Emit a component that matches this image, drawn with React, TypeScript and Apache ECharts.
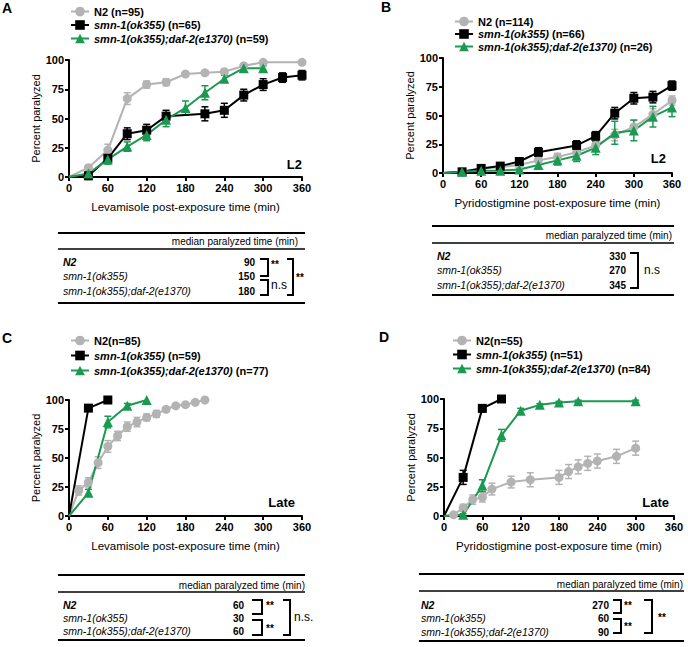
import React, { useEffect, useRef } from "react";
import * as echarts from "echarts";

const FONT = '"Liberation Sans", Arial, Helvetica, sans-serif';
const GRAY = "#b3b3b3";
const BLACK = "#000000";
const GREEN = "#1a9a50";

// ---- Panel A (L2, levamisole)
const A_N2_t = [0, 30, 60, 90, 120, 150, 180, 210, 240, 270, 300, 360];
const A_N2_v = [0, 8, 23, 67, 79, 81, 88, 89, 90, 95, 98, 98];
const A_N2_e = [0, 2, 5, 5, 3, 3, 2, 2, 2, 2, 1, 1];
const A_smn_t = [0, 30, 60, 90, 120, 150, 210, 240, 270, 300, 330, 360];
const A_smn_v = [0, 1, 16, 37, 40, 52, 54, 57, 70, 79, 85, 87];
const A_smn_e = [0, 3, 4, 5, 5, 5, 6, 6, 5, 5, 4, 4];
const A_daf_t = [0, 30, 60, 90, 120, 150, 180, 210, 240, 270, 300];
const A_daf_v = [0, 3, 15, 26, 36, 49, 59, 72, 84, 93, 93];
const A_daf_e = [0, 2, 4, 4, 5, 6, 6, 6, 3, 3, 2];

// ---- Panel B (L2, pyridostigmine)
const B_N2_t = [0, 30, 60, 90, 120, 150, 180, 210, 240, 270, 300, 330, 360];
const B_N2_v = [0, 1, 4, 5, 7, 11, 14, 18, 24, 33, 40, 51, 63];
const B_N2_e = [0, 1, 1, 1, 2, 2, 3, 3, 3, 5, 6, 5, 4];
const B_smn_t = [0, 30, 60, 90, 120, 150, 210, 240, 270, 300, 330, 360];
const B_smn_v = [0, 1, 4, 6, 10, 18, 24, 32, 52, 65, 66, 76];
const B_smn_e = [0, 1, 1, 1, 3, 4, 4, 4, 5, 5, 5, 4];
const B_daf_t = [0, 30, 60, 90, 120, 150, 180, 210, 240, 270, 300, 330, 360];
const B_daf_v = [0, 1, 2, 2, 3, 7, 11, 15, 22, 35, 37, 49, 57];
const B_daf_e = [0, 1, 1, 1, 1, 3, 4, 5, 6, 10, 9, 9, 8];

// ---- Panel C (Late, levamisole)
const C_N2_t = [0, 15, 30, 45, 60, 75, 90, 105, 120, 135, 150, 165, 180, 195, 210];
const C_N2_v = [0, 22, 29, 46, 60, 69, 77, 81, 85, 88, 92, 95, 96, 98, 100];
const C_N2_e = [0, 4, 4, 5, 5, 4, 4, 4, 3, 3, 2, 1, 1, 1, 0];
const C_smn_t = [0, 30, 60];
const C_smn_v = [0, 93, 100];
const C_smn_e = [0, 2, 0];
const C_daf_t = [0, 30, 60, 90, 120];
const C_daf_v = [0, 20, 81, 95, 100];
const C_daf_e = [0, 3, 5, 2, 0];

// ---- Panel D (Late, pyridostigmine)
const D_N2_t = [0, 15, 30, 45, 60, 75, 105, 135, 180, 195, 210, 225, 240, 270, 300];
const D_N2_v = [0, 1, 7, 14, 16, 23, 29, 31, 33, 38, 42, 45, 47, 51, 58];
const D_N2_e = [0, 1, 3, 4, 4, 5, 5, 6, 6, 6, 6, 6, 6, 6, 6];
const D_smn_t = [0, 30, 60, 90];
const D_smn_v = [0, 33, 92, 100];
const D_smn_e = [0, 6, 3, 1];
const D_daf_t = [0, 30, 60, 90, 120, 150, 180, 210, 300];
const D_daf_v = [0, 1, 26, 69, 90, 95, 97, 98, 98];
const D_daf_e = [0, 1, 5, 5, 2, 1, 1, 1, 1];

// ---- Legend names per panel
const A_names = ["N2 (n=95)", "smn-1(ok355) (n=65)", "smn-1(ok355);daf-2(e1370) (n=59)"];
const B_names = ["N2 (n=114)", "smn-1(ok355) (n=66)", "smn-1(ok355);daf-2(e1370) (n=26)"];
const C_names = ["N2(n=85)", "smn-1(ok355) (n=59)", "smn-1(ok355);daf-2(e1370) (n=77)"];
const D_names = ["N2(n=55)", "smn-1(ok355) (n=51)", "smn-1(ok355);daf-2(e1370) (n=84)"];

// ---- Tables
const strainLabels = ["N2", "smn-1(ok355)", "smn-1(ok355);daf-2(e1370)"];
const A_median = ["90", "150", "180"];
const B_median = ["330", "270", "345"];
const C_median = ["60", "30", "60"];
const D_median = ["270", "60", "90"];

const xTicks = { min: 0, max: 360, interval: 60 };
const yTicks = { min: 0, max: 100, interval: 25 };

type S = { t: number[]; v: number[]; e: number[] };

const panels = [
  {
    key: "A",
    grid: { left: 69, top: 60, width: 233, height: 117 },
    xName: "Levamisole post-exposure time (min)",
    stage: "L2",
    stagePos: [302, 164],
    legend: { left: 70, top: 6, gap: 2.5 },
    legendNames: A_names,
    series: [
      { t: A_N2_t, v: A_N2_v, e: A_N2_e },
      { t: A_smn_t, v: A_smn_v, e: A_smn_e },
      { t: A_daf_t, v: A_daf_v, e: A_daf_e },
    ] as S[],
    letter: [2, 8],
  },
  {
    key: "B",
    grid: { left: 443, top: 58, width: 229, height: 115 },
    xName: "Pyridostigmine post-exposure time (min)",
    stage: "L2",
    stagePos: [666, 158],
    legend: { left: 454, top: 16, gap: 1.5 },
    legendNames: B_names,
    series: [
      { t: B_N2_t, v: B_N2_v, e: B_N2_e },
      { t: B_smn_t, v: B_smn_v, e: B_smn_e },
      { t: B_daf_t, v: B_daf_v, e: B_daf_e },
    ] as S[],
    letter: [381, 7],
  },
  {
    key: "C",
    grid: { left: 69, top: 400, width: 233, height: 116 },
    xName: "Levamisole post-exposure time (min)",
    stage: "Late",
    stagePos: [295, 502],
    legend: { left: 70, top: 335, gap: 4 },
    legendNames: C_names,
    series: [
      { t: C_N2_t, v: C_N2_v, e: C_N2_e },
      { t: C_smn_t, v: C_smn_v, e: C_smn_e },
      { t: C_daf_t, v: C_daf_v, e: C_daf_e },
    ] as S[],
    letter: [2, 338],
  },
  {
    key: "D",
    grid: { left: 444, top: 399, width: 230, height: 117 },
    xName: "Pyridostigmine post-exposure time (min)",
    stage: "Late",
    stagePos: [669, 502],
    legend: { left: 452, top: 335, gap: 3 },
    legendNames: D_names,
    series: [
      { t: D_N2_t, v: D_N2_v, e: D_N2_e },
      { t: D_smn_t, v: D_smn_v, e: D_smn_e },
      { t: D_daf_t, v: D_daf_v, e: D_daf_e },
    ] as S[],
    letter: [379, 337],
  },
];

const COLORS = [GRAY, BLACK, GREEN];
const SYMBOLS = ["circle", "rect", "triangle"];
const SYMSIZE = [9, 9, 10];

function legendFormatter(name: string) {
  const m = name.match(/^(smn-1\(ok355\)(?:;daf-2\(e1370\))?)(.*)$/);
  if (m) return `{i|${m[1]}}{b|${m[2]}}`;
  return `{b|${name}}`;
}

function textEl(text: string, x: number, y: number, opts: any = {}) {
  return {
    type: "text",
    x,
    y,
    silent: true,
    style: {
      text,
      fill: "#000",
      fontFamily: FONT,
      fontSize: opts.size ?? 10,
      fontWeight: opts.weight ?? "normal",
      fontStyle: opts.style ?? "normal",
      align: opts.align ?? "left",
      verticalAlign: "middle",
    },
  };
}

function hline(x1: number, x2: number, y: number, w: number) {
  return {
    type: "line",
    silent: true,
    shape: { x1, y1: y, x2, y2: y },
    style: { stroke: "#000", lineWidth: w },
  };
}

function bracket(x1: number, x2: number, y1: number, y2: number) {
  return {
    type: "polyline",
    silent: true,
    shape: { points: [[x1, y1], [x2, y1], [x2, y2], [x1, y2]] },
    style: { stroke: "#000", lineWidth: 2, fill: "none" },
  };
}

function table(cfg: any) {
  const els: any[] = [];
  els.push(hline(cfg.x1, cfg.x2, cfg.top, 2));
  els.push(hline(cfg.x1, cfg.x2, cfg.mid, 1.5));
  els.push(hline(cfg.x1, cfg.x2, cfg.bottom, 2));
  els.push(textEl("median paralyzed time (min)", cfg.headerRight, cfg.headerY, { align: "right" }));
  strainLabels.forEach((lab, i) => {
    els.push(
      textEl(lab, cfg.labelX, cfg.rows[i], {
        style: "italic",
        weight: i === 0 ? "bold" : "normal",
        size: 10.5,
      })
    );
    els.push(textEl(cfg.values[i], cfg.valueRight, cfg.rows[i], { align: "right", weight: "bold" }));
  });
  cfg.brackets.forEach((b: number[]) => els.push(bracket(b[0], b[1], b[2], b[3])));
  cfg.marks.forEach((m: any) =>
    els.push(textEl(m[0], m[1], m[2], { weight: m[0] === "**" ? "bold" : "normal", size: m[0] === "**" ? 10 : 12 }))
  );
  return els;
}

const tables = [
  {
    x1: 58, x2: 305, top: 233, mid: 249, bottom: 303,
    headerRight: 298, headerY: 241, labelX: 63, rows: [262, 276, 291], valueRight: 255, values: A_median,
    brackets: [[260, 268, 259, 276], [260, 268, 280, 295], [287, 293, 259, 295]],
    marks: [["**", 271, 264], ["n.s", 271, 285], ["**", 296, 277]],
  },
  {
    x1: 432, x2: 674, top: 226, mid: 243, bottom: 295,
    headerRight: 672, headerY: 235, labelX: 437, rows: [256, 270, 285], valueRight: 626, values: B_median,
    brackets: [[630, 638, 253, 288]],
    marks: [["n.s", 644, 270]],
  },
  {
    x1: 58, x2: 305, top: 575, mid: 592, bottom: 640,
    headerRight: 305, headerY: 585, labelX: 63, rows: [605, 618, 631], valueRight: 244, values: C_median,
    brackets: [[252, 262, 600, 614], [252, 262, 620, 635], [283, 290, 600, 635]],
    marks: [["**", 266, 605], ["**", 266, 628], ["n.s.", 294, 617]],
  },
  {
    x1: 419, x2: 684, top: 574, mid: 591, bottom: 641,
    headerRight: 683, headerY: 584, labelX: 421, rows: [605, 618, 632], valueRight: 609, values: D_median,
    brackets: [[613, 621, 600, 613], [613, 621, 619, 633], [644, 652, 600, 633]],
    marks: [["**", 624, 605], ["**", 624, 626], ["**", 658, 617]],
  },
];

function errRender(color: string) {
  return (params: any, api: any) => {
    const x = api.value(0);
    const y = api.value(1);
    const e = api.value(2);
    if (!e) return null;
    const p1 = api.coord([x, y + e]);
    const p2 = api.coord([x, y - e]);
    const w = 3.5;
    const st = { stroke: color, lineWidth: 1.5 };
    return {
      type: "group",
      children: [
        { type: "line", shape: { x1: p1[0], y1: p1[1], x2: p2[0], y2: p2[1] }, style: st },
        { type: "line", shape: { x1: p1[0] - w, y1: p1[1], x2: p1[0] + w, y2: p1[1] }, style: st },
        { type: "line", shape: { x1: p2[0] - w, y1: p2[1], x2: p2[0] + w, y2: p2[1] }, style: st },
      ],
    };
  };
}

function buildOption() {
  const grid: any[] = [];
  const xAxis: any[] = [];
  const yAxis: any[] = [];
  const series: any[] = [];
  const legend: any[] = [];
  const graphic: any[] = [];

  panels.forEach((p, pi) => {
    grid.push({ ...p.grid, containLabel: false });
    const axisCommon = {
      axisLine: { show: true, onZero: false, lineStyle: { color: "#000", width: 2 } },
      axisTick: { show: true, inside: false, length: 4, lineStyle: { color: "#000", width: 2 } },
      splitLine: { show: false },
      axisLabel: { color: "#000", fontFamily: FONT, fontSize: 11, fontWeight: "bold", margin: 5 },
    };
    xAxis.push({
      type: "value",
      gridIndex: pi,
      ...xTicks,
      ...axisCommon,
      name: p.xName,
      nameLocation: "middle",
      nameGap: 24,
      nameTextStyle: { color: "#000", fontFamily: FONT, fontSize: 11.5 },
    });
    yAxis.push({
      type: "value",
      gridIndex: pi,
      ...yTicks,
      ...axisCommon,
      name: "Percent paralyzed",
      nameLocation: "middle",
      nameGap: 27,
      nameTextStyle: { color: "#000", fontFamily: FONT, fontSize: 11 },
    });

    p.series.forEach((s, si) => {
      const color = COLORS[si];
      series.push({
        type: "custom",
        xAxisIndex: pi,
        yAxisIndex: pi,
        silent: true,
        clip: false,
        renderItem: errRender(color),
        data: s.t.map((t, i) => [t, s.v[i], s.e[i]]),
        encode: { x: 0, y: 1 },
        z: 2,
      });
      series.push({
        type: "line",
        name: p.legendNames[si],
        xAxisIndex: pi,
        yAxisIndex: pi,
        clip: false,
        symbol: SYMBOLS[si],
        symbolSize: SYMSIZE[si],
        showSymbol: true,
        color,
        itemStyle: { color },
        lineStyle: { color, width: 2 },
        data: s.t.map((t, i) =>
          t === 0 ? { value: [t, s.v[i]], symbol: "none" } : { value: [t, s.v[i]] }
        ),
        z: 2,
      });
    });

    legend.push({
      orient: "vertical",
      left: p.legend.left,
      top: p.legend.top,
      itemGap: p.legend.gap,
      itemWidth: 18,
      itemHeight: 12,
      selectedMode: false,
      padding: 0,
      data: p.legendNames,
      formatter: legendFormatter,
      textStyle: {
        color: "#000",
        fontFamily: FONT,
        fontSize: 11,
        fontWeight: "bold",
        rich: {
          i: { fontFamily: FONT, fontSize: 11, fontWeight: "bold", fontStyle: "italic", color: "#000" },
          b: { fontFamily: FONT, fontSize: 11, fontWeight: "bold", color: "#000" },
        },
      },
    });

    graphic.push({
      type: "text",
      x: p.letter[0],
      y: p.letter[1],
      silent: true,
      style: { text: p.key, fill: "#000", fontFamily: FONT, fontSize: 14, fontWeight: "bold", verticalAlign: "middle" },
    });
    graphic.push({
      type: "text",
      x: p.stagePos[0],
      y: p.stagePos[1],
      silent: true,
      style: {
        text: p.stage,
        fill: "#000",
        fontFamily: FONT,
        fontSize: 13,
        fontWeight: "bold",
        align: "right",
        verticalAlign: "middle",
      },
    });
  });

  tables.forEach((t) => graphic.push(...table(t)));

  return {
    animation: false,
    backgroundColor: "#ffffff",
    grid,
    xAxis,
    yAxis,
    legend,
    series,
    graphic,
  };
}

export default function App() {
  const ref = useRef<HTMLDivElement>(null);
  useEffect(() => {
    if (!ref.current) return;
    const chart = echarts.init(ref.current, null, { renderer: "svg" });
    chart.setOption(buildOption() as any);
    return () => chart.dispose();
  }, []);
  return (
    <div
      ref={ref}
      style={{ position: "absolute", left: 0, top: 0, width: 688, height: 647, background: "#fff" }}
    />
  );
}
